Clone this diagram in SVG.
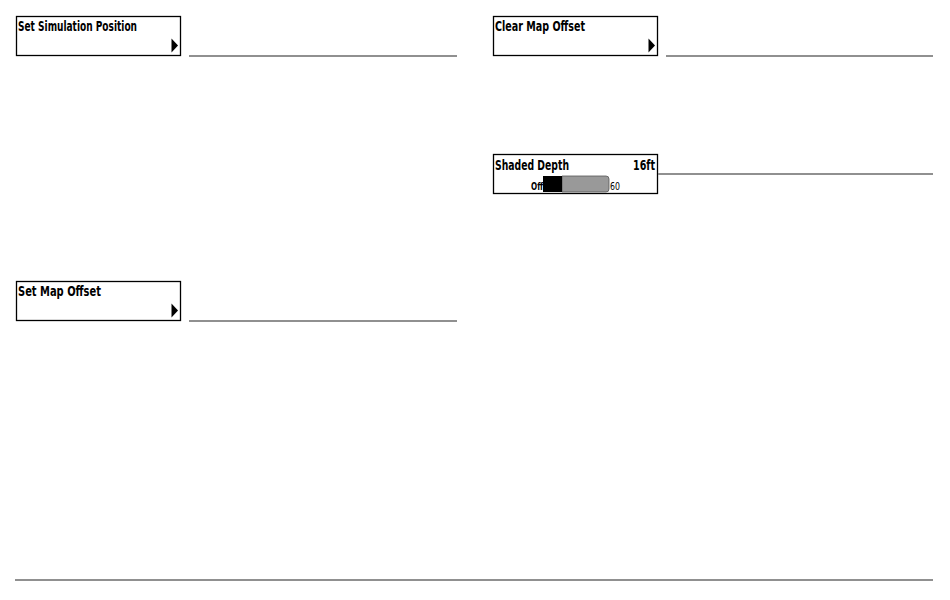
<svg xmlns="http://www.w3.org/2000/svg" width="950" height="600" viewBox="0 0 950 600">
<style>
.box{fill:#fff;stroke:#000;stroke-width:1.3}
.lbl{font-family:"DejaVu Sans Condensed","Liberation Sans Narrow","Liberation Sans",sans-serif;font-weight:bold;font-size:13.5px;fill:#000}
.sm{font-family:"DejaVu Sans Condensed","Liberation Sans Narrow","Liberation Sans",sans-serif;font-size:10.5px;fill:#000}
.rule{stroke:#909090;stroke-width:2;fill:none}
.tri{fill:#000}
</style>
<rect width="950" height="600" fill="#fff"/>
<g id="set-simulation-position">
<rect class="box" x="16.5" y="16.5" width="164" height="39"/>
<text class="lbl" x="18" y="30.5" textLength="119" lengthAdjust="spacingAndGlyphs">Set Simulation Position</text>
<polygon class="tri" points="171.5,38.5 178,45.5 171.5,52.5"/>
</g>
<g id="clear-map-offset">
<rect class="box" x="493.5" y="16.5" width="164" height="39"/>
<text class="lbl" x="495" y="30.5" textLength="90" lengthAdjust="spacingAndGlyphs">Clear Map Offset</text>
<polygon class="tri" points="648.5,38.5 655,45.5 648.5,52.5"/>
</g>
<g id="shaded-depth">
<rect class="box" x="493.5" y="154.5" width="164" height="39"/>
<text class="lbl" x="495" y="169.5" textLength="74" lengthAdjust="spacingAndGlyphs">Shaded Depth</text>
<text class="lbl" x="655" y="169.5" text-anchor="end" textLength="22" lengthAdjust="spacingAndGlyphs">16ft</text>
<text class="sm" x="531" y="189.5" textLength="12" lengthAdjust="spacingAndGlyphs" font-weight="bold">Off</text>
<path d="M562,176 H606 Q609,176 609,179 V189 Q609,192 606,192 H562 Z" fill="#999" stroke="#555" stroke-width="0.8"/>
<rect x="543" y="176" width="19" height="16" fill="#000"/>
<text class="sm" x="610" y="189.5" textLength="10" lengthAdjust="spacingAndGlyphs">60</text>
</g>
<g id="set-map-offset">
<rect class="box" x="16.5" y="281.5" width="164" height="39"/>
<text class="lbl" x="18" y="296" textLength="83" lengthAdjust="spacingAndGlyphs">Set Map Offset</text>
<polygon class="tri" points="171.5,303.5 178,310.5 171.5,317.5"/>
</g>
<g id="connectors">
<line class="rule" x1="189" y1="56" x2="457" y2="56"/>
<line class="rule" x1="666" y1="56" x2="933" y2="56"/>
<line class="rule" x1="658" y1="174" x2="933" y2="174"/>
<line class="rule" x1="189" y1="321" x2="457" y2="321"/>
<line class="rule" x1="15" y1="580" x2="933" y2="580"/>
</g>
</svg>
